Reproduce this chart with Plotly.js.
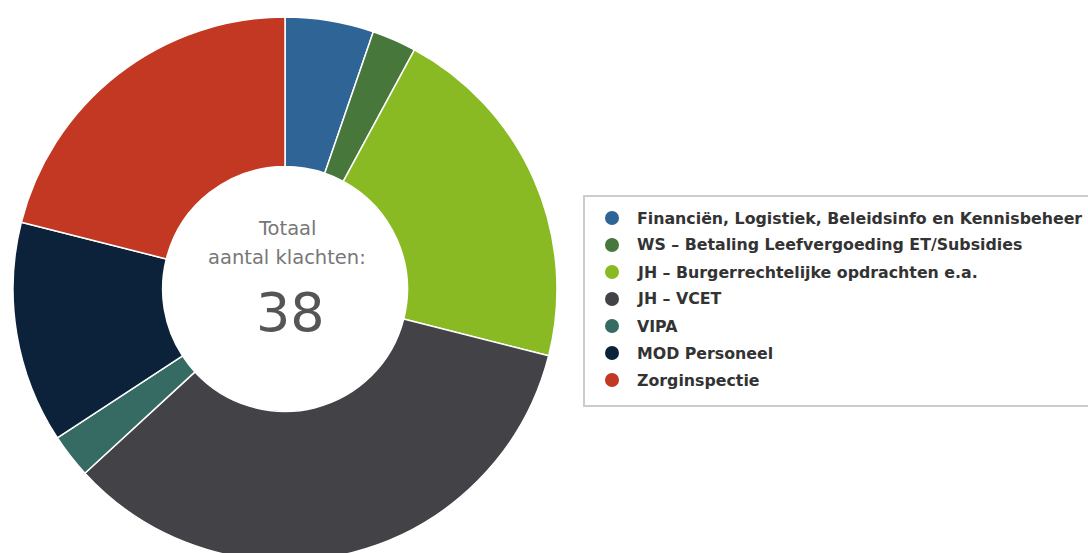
<!DOCTYPE html>
<html>
<head>
<meta charset="utf-8">
<script src="https://cdn.plot.ly/plotly-3.0.1.min.js"></script>
<style>
html,body{margin:0;padding:0;overflow:hidden;background:#fff;width:1088px;height:553px;}
#chart{width:1088px;height:580px;}
</style>
</head>
<body>
<div id="chart"></div>
<script>
var categories = [
  "Financiën, Logistiek, Beleidsinfo en Kennisbeheer",
  "WS – Betaling Leefvergoeding ET/Subsidies",
  "JH – Burgerrechtelijke opdrachten e.a.",
  "JH – VCET",
  "VIPA",
  "MOD Personeel",
  "Zorginspectie"
];
var values = [2, 1, 8, 13, 1, 5, 8];
var colors = ["#2f6496", "#47773a", "#8aba23", "#434247", "#356b62", "#0c223b", "#c33822"];
var centerLabel = ["Totaal", "aantal klachten:"];
var total = values.reduce(function(a, b){ return a + b; }, 0);

var W = 1088, H = 580, mt = 17, mb = 19;
function px(x){ return x / W; }
function py(y){ return (H - mb - y) / (H - mt - mb); }

var trace = {
  type: "pie",
  labels: categories,
  values: values,
  sort: false,
  direction: "clockwise",
  rotation: 0,
  hole: 0.45,
  textinfo: "none",
  hoverinfo: "label+value",
  showlegend: false,
  marker: {colors: colors, line: {color: "#ffffff", width: 1.5}},
  domain: {x: [px(13), px(557)], y: [0, 1]}
};

var shapes = [{
  type: "rect", xref: "paper", yref: "paper",
  x0: px(584), x1: px(1100), y0: py(406), y1: py(196),
  line: {color: "#cccccc", width: 2}, fillcolor: "rgba(0,0,0,0)"
}];
var annotations = [];
categories.forEach(function(c, i){
  var yc = 218 + 27 * i;
  shapes.push({
    type: "circle", xref: "paper", yref: "paper",
    x0: px(605), x1: px(619), y0: py(yc + 7), y1: py(yc - 7),
    fillcolor: colors[i], line: {width: 0}
  });
  annotations.push({
    xref: "paper", yref: "paper", x: px(635), y: py(yc),
    xanchor: "left", yanchor: "middle", showarrow: false,
    text: "<b>" + c + "</b>",
    font: {family: "DejaVu Sans", size: 15.8, color: "#333333"}
  });
});
annotations.push({
  xref: "paper", yref: "paper", x: px(287), y: py(229), xanchor: "center", yanchor: "middle",
  showarrow: false, text: centerLabel[0], font: {family: "DejaVu Sans", size: 19.5, color: "#777777"}
});
annotations.push({
  xref: "paper", yref: "paper", x: px(287), y: py(257), xanchor: "center", yanchor: "middle",
  showarrow: false, text: centerLabel[1], font: {family: "DejaVu Sans", size: 19.5, color: "#777777"}
});
annotations.push({
  xref: "paper", yref: "paper", x: px(290), y: py(312), xanchor: "center", yanchor: "middle",
  showarrow: false, text: String(total), font: {family: "DejaVu Sans", size: 54, color: "#555555"}
});

var layout = {
  width: W, height: H,
  margin: {l: 0, r: 0, t: mt, b: mb},
  paper_bgcolor: "#ffffff",
  showlegend: false,
  shapes: shapes,
  annotations: annotations
};
Plotly.newPlot("chart", [trace], layout, {displayModeBar: false, staticPlot: true});
</script>
</body>
</html>
